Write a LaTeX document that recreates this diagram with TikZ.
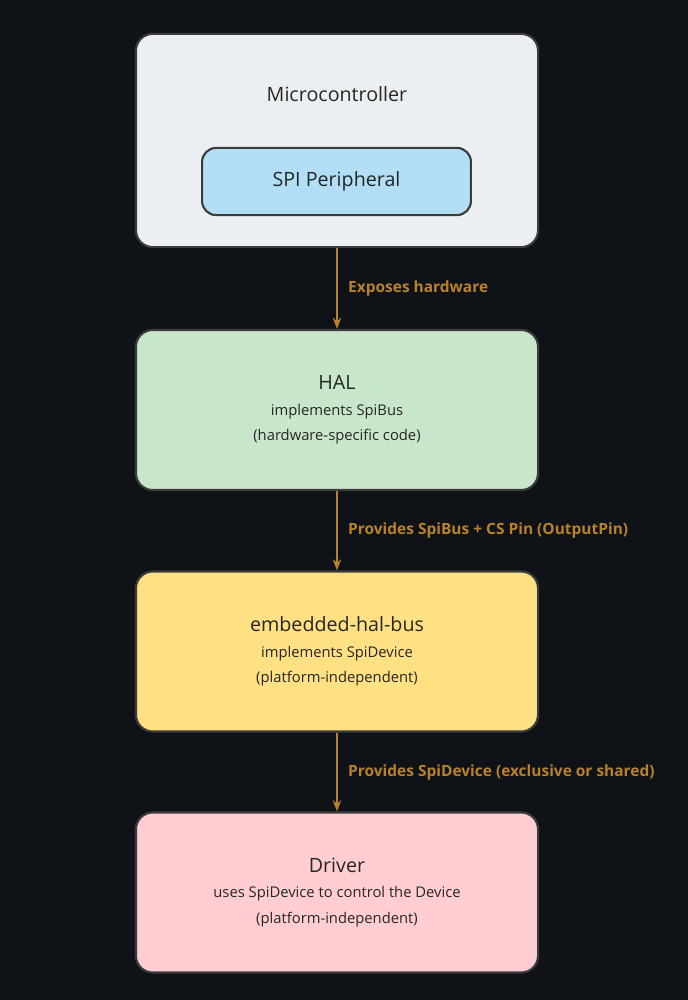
\documentclass[tikz,border=0pt]{standalone}
\usepackage{fontspec}
\setmainfont{Open Sans}
\usetikzlibrary{positioning, arrows.meta, calc}
\definecolor{bg}{HTML}{0F1318}
\definecolor{edge}{HTML}{B8812A}
\definecolor{mcu}{HTML}{ECEFF1}
\definecolor{spi}{HTML}{B2DFF5}
\definecolor{hal}{HTML}{C8E6C9}
\definecolor{ehb}{HTML}{FFE082}
\definecolor{drv}{HTML}{FFCDD2}
\definecolor{frame}{HTML}{3C3C3C}
\begin{document}
\begin{tikzpicture}[
            x=0.025cm, y=-0.025cm,
            >={Stealth[length=8pt, width=6pt]},
            block/.style={draw=frame, line width=1.5pt, rounded corners=12pt, minimum width=10.05cm, minimum height=4cm, align=center, text=black!85},
            inner/.style={draw=frame, line width=1.5pt, rounded corners=10pt, minimum width=6.72cm, minimum height=1.68cm, fill=spi, font=\fontsize{14}{16}\selectfont, text=black!85},
            link/.style={->, draw=edge, line width=1.3pt},
            linklabel/.style={right, text=edge, font=\bfseries\fontsize{11}{13}\selectfont},
        ]
            \fill[bg] (0,0) rectangle (688,1000);

            % Microcontroller with its peripheral
            \node[block, fill=mcu, minimum height=5.33cm] (mcu) at (337,140.5) {};
            \node[text=black!85, font=\fontsize{14}{16}\selectfont] (mcu-title) at (337,94) {Microcontroller};
            \node[inner] (spi) at (336.5,181.5) {SPI Peripheral};

            % Software layers
            \node[block, fill=hal] (hal) at (337,410) {{\fontsize{14}{16}\selectfont HAL}\\[6pt]
                {\fontsize{10.5}{12}\selectfont implements SpiBus}\\[6pt]
                {\fontsize{10.5}{12}\selectfont (hardware-specific code)}};
            \node[block, fill=ehb] (ehb) at (337,651.5) {{\fontsize{14}{16}\selectfont embedded-hal-bus}\\[6pt]
                {\fontsize{10.5}{12}\selectfont implements SpiDevice}\\[6pt]
                {\fontsize{10.5}{12}\selectfont (platform-independent)}};
            \node[block, fill=drv] (drv) at (337,892.5) {{\fontsize{14}{16}\selectfont Driver}\\[6pt]
                {\fontsize{10.5}{12}\selectfont uses SpiDevice to control the Device}\\[6pt]
                {\fontsize{10.5}{12}\selectfont (platform-independent)}};

            % Connections
            \draw[link] (mcu) -- node[linklabel, xshift=4pt] {Exposes hardware} (hal);
            \draw[link] (hal) -- node[linklabel, xshift=4pt] {Provides SpiBus + CS Pin (OutputPin)} (ehb);
            \draw[link] (ehb) -- node[linklabel, xshift=4pt] {Provides SpiDevice (exclusive or shared)} (drv);
        \end{tikzpicture}
\end{document}
